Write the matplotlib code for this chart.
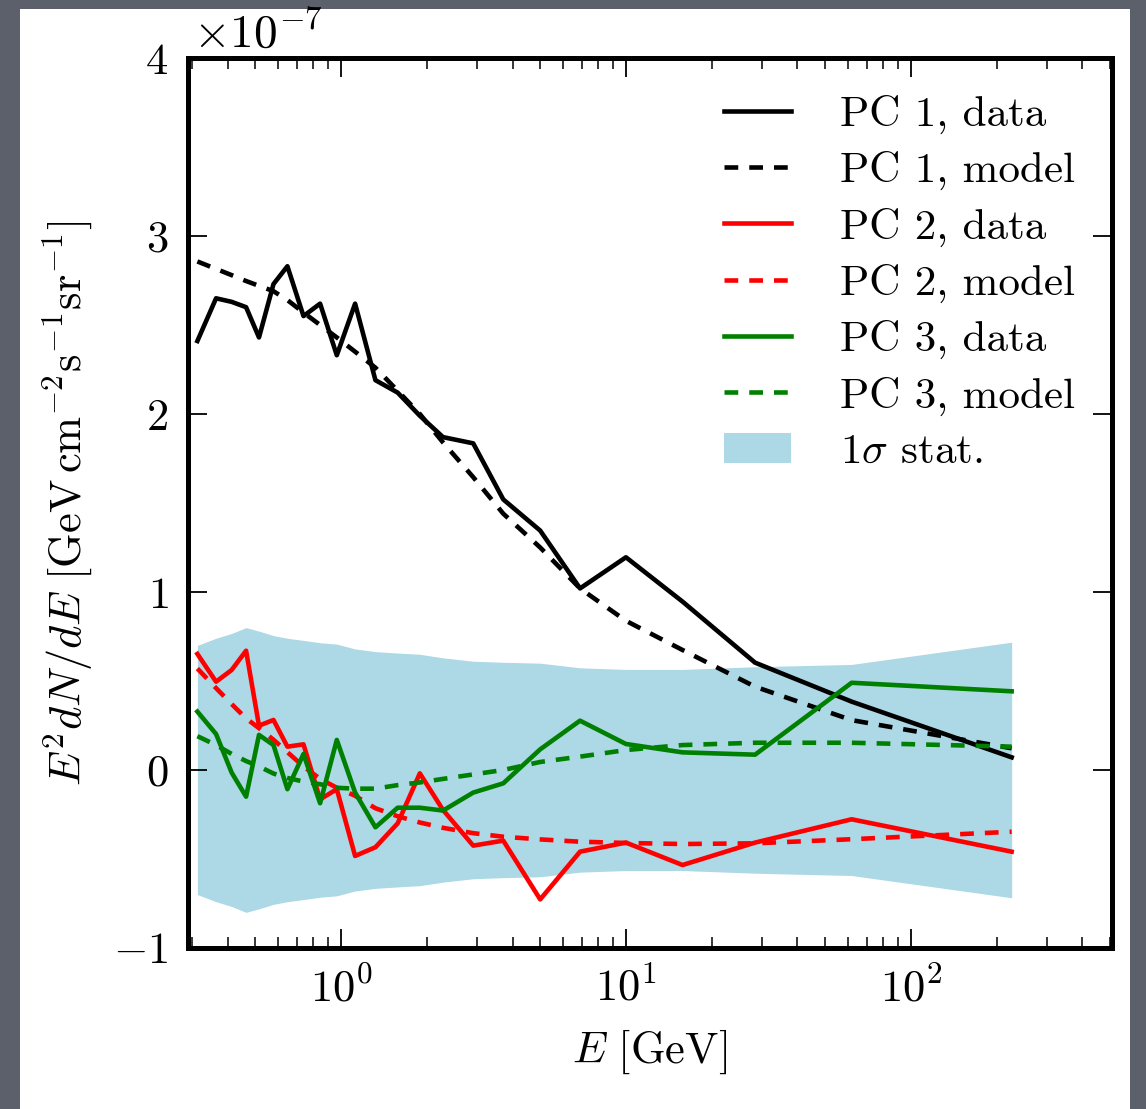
import numpy as np
import matplotlib
matplotlib.use("Agg")
import matplotlib.pyplot as plt
from matplotlib.patches import Rectangle
from matplotlib.ticker import ScalarFormatter

# energy bins [GeV]
energy = [0.313, 0.364, 0.413, 0.464, 0.515, 0.579, 0.648, 0.738, 0.844, 0.966,
          1.12, 1.32, 1.58, 1.89, 2.28, 2.91, 3.71, 5.0, 6.9, 10.0,
          15.8, 28.4, 62.0, 226.0]

# spectra in units of 1e-7 GeV cm^-2 s^-1 sr^-1
pc1_data = [2.41, 2.65, 2.63, 2.60, 2.43, 2.73, 2.83, 2.55, 2.62, 2.33,
            2.62, 2.19, 2.12, 1.99, 1.87, 1.835, 1.52, 1.345, 1.02, 1.195,
            0.946, 0.603, 0.384, 0.071]
pc1_model = [2.857, 2.815, 2.78, 2.747, 2.72, 2.69, 2.64, 2.57, 2.50, 2.43,
             2.35, 2.26, 2.13, 2.00, 1.84, 1.645, 1.44, 1.25, 1.02, 0.838,
             0.674, 0.468, 0.28, 0.122]
pc2_data = [0.652, 0.496, 0.562, 0.67, 0.249, 0.281, 0.131, 0.144, -0.165, -0.108,
            -0.483, -0.434, -0.30, -0.019, -0.225, -0.425, -0.397, -0.727, -0.459, -0.408,
            -0.534, -0.408, -0.277, -0.459]
pc2_model = [0.57, 0.46, 0.37, 0.29, 0.235, 0.17, 0.10, 0.02, -0.05, -0.10,
             -0.145, -0.215, -0.26, -0.295, -0.325, -0.355, -0.375, -0.39, -0.403, -0.41,
             -0.416, -0.412, -0.389, -0.347]
pc3_data = [0.328, 0.202, -0.015, -0.15, 0.197, 0.14, -0.108, 0.09, -0.187, 0.169,
            -0.127, -0.322, -0.212, -0.212, -0.228, -0.127, -0.075, 0.116, 0.277, 0.146,
            0.099, 0.086, 0.49, 0.442]
pc3_model = [0.19, 0.14, 0.09, 0.05, 0.02, -0.02, -0.045, -0.065, -0.08, -0.10,
             -0.105, -0.105, -0.085, -0.07, -0.05, -0.025, 0.0, 0.045, 0.075, 0.112,
             0.14, 0.153, 0.153, 0.131]
stat_sigma = [0.70, 0.74, 0.767, 0.80, 0.78, 0.755, 0.74, 0.728, 0.715, 0.707,
              0.68, 0.665, 0.657, 0.65, 0.63, 0.611, 0.605, 0.60, 0.574, 0.565,
              0.565, 0.58, 0.593, 0.718]

SCALE = 1e-7

plt.rcParams['font.family'] = 'serif'
plt.rcParams['font.serif'] = ['cmr10', 'DejaVu Serif']
plt.rcParams['mathtext.fontset'] = 'cm'
plt.rcParams['axes.formatter.use_mathtext'] = True
plt.rcParams['axes.unicode_minus'] = True

FS = 32

E = np.array(energy)
s = np.array(stat_sigma) * SCALE

fig = plt.figure(figsize=(11.46, 11.09), dpi=100)
fig.patch.set_facecolor('#5c606b')
# white slide panel behind the axes
fig.patches.append(Rectangle((20 / 1146, 0), 1110 / 1146, 1 - 9 / 1109,
                             transform=fig.transFigure, facecolor='white',
                             edgecolor='none', zorder=-5))

ax = fig.add_axes([0.164, 0.1452, 0.806, 0.8025])
ax.set_zorder(2)
ax.set_facecolor('white')

lw = 3.3
dash = (3.0, 2.4)
ax.plot(E, np.array(pc1_data) * SCALE, color='k', lw=lw, label='PC 1, data')
ax.plot(E, np.array(pc1_model) * SCALE, color='k', lw=lw, dashes=dash, label='PC 1, model')
ax.plot(E, np.array(pc2_data) * SCALE, color='r', lw=lw, label='PC 2, data')
ax.plot(E, np.array(pc2_model) * SCALE, color='r', lw=lw, dashes=dash, label='PC 2, model')
ax.plot(E, np.array(pc3_data) * SCALE, color='g', lw=lw, label='PC 3, data')
ax.plot(E, np.array(pc3_model) * SCALE, color='g', lw=lw, dashes=dash, label='PC 3, model')
ax.fill_between(E, -s, s, color='lightblue', lw=0, zorder=0, label=r'$1\sigma$ stat.')

ax.set_xscale('log')
ax.set_xlim(0.29, 507)
ax.set_ylim(-1e-7, 4e-7)
ax.set_yticks(np.arange(-1, 5) * SCALE)

fmt = ScalarFormatter(useMathText=True)
fmt.set_powerlimits((-3, 3))
ax.yaxis.set_major_formatter(fmt)
ax.yaxis.get_offset_text().set_visible(False)
ax.text(0.005, 1.002, r'$\times10^{-7}$', transform=ax.transAxes,
        fontsize=FS + 2, ha='left', va='bottom')

for sp in ax.spines.values():
    sp.set_linewidth(3.6)
ax.tick_params(which='both', direction='in', top=True, right=True, labelsize=FS, pad=14)
ax.tick_params(which='major', length=14, width=1.3)
ax.tick_params(which='minor', length=8, width=1.1)
ax.tick_params(axis='y', which='minor', left=False, right=False)

ax.set_xlabel(r'$E\ [\mathrm{GeV}]$', fontsize=FS, labelpad=12)
ax.set_ylabel(r'$E^2dN/dE\ [\mathrm{GeV\,cm^{-2}s^{-1}sr^{-1}}]$', fontsize=FS, labelpad=14)

handles, labels = ax.get_legend_handles_labels()
ax.legend(handles, labels, loc='upper right', frameon=False, fontsize=31,
          handlelength=1.55, handletextpad=1.15, labelspacing=0.40,
          borderaxespad=0.45)

plt.savefig('out.png', dpi=100, facecolor=fig.get_facecolor())
